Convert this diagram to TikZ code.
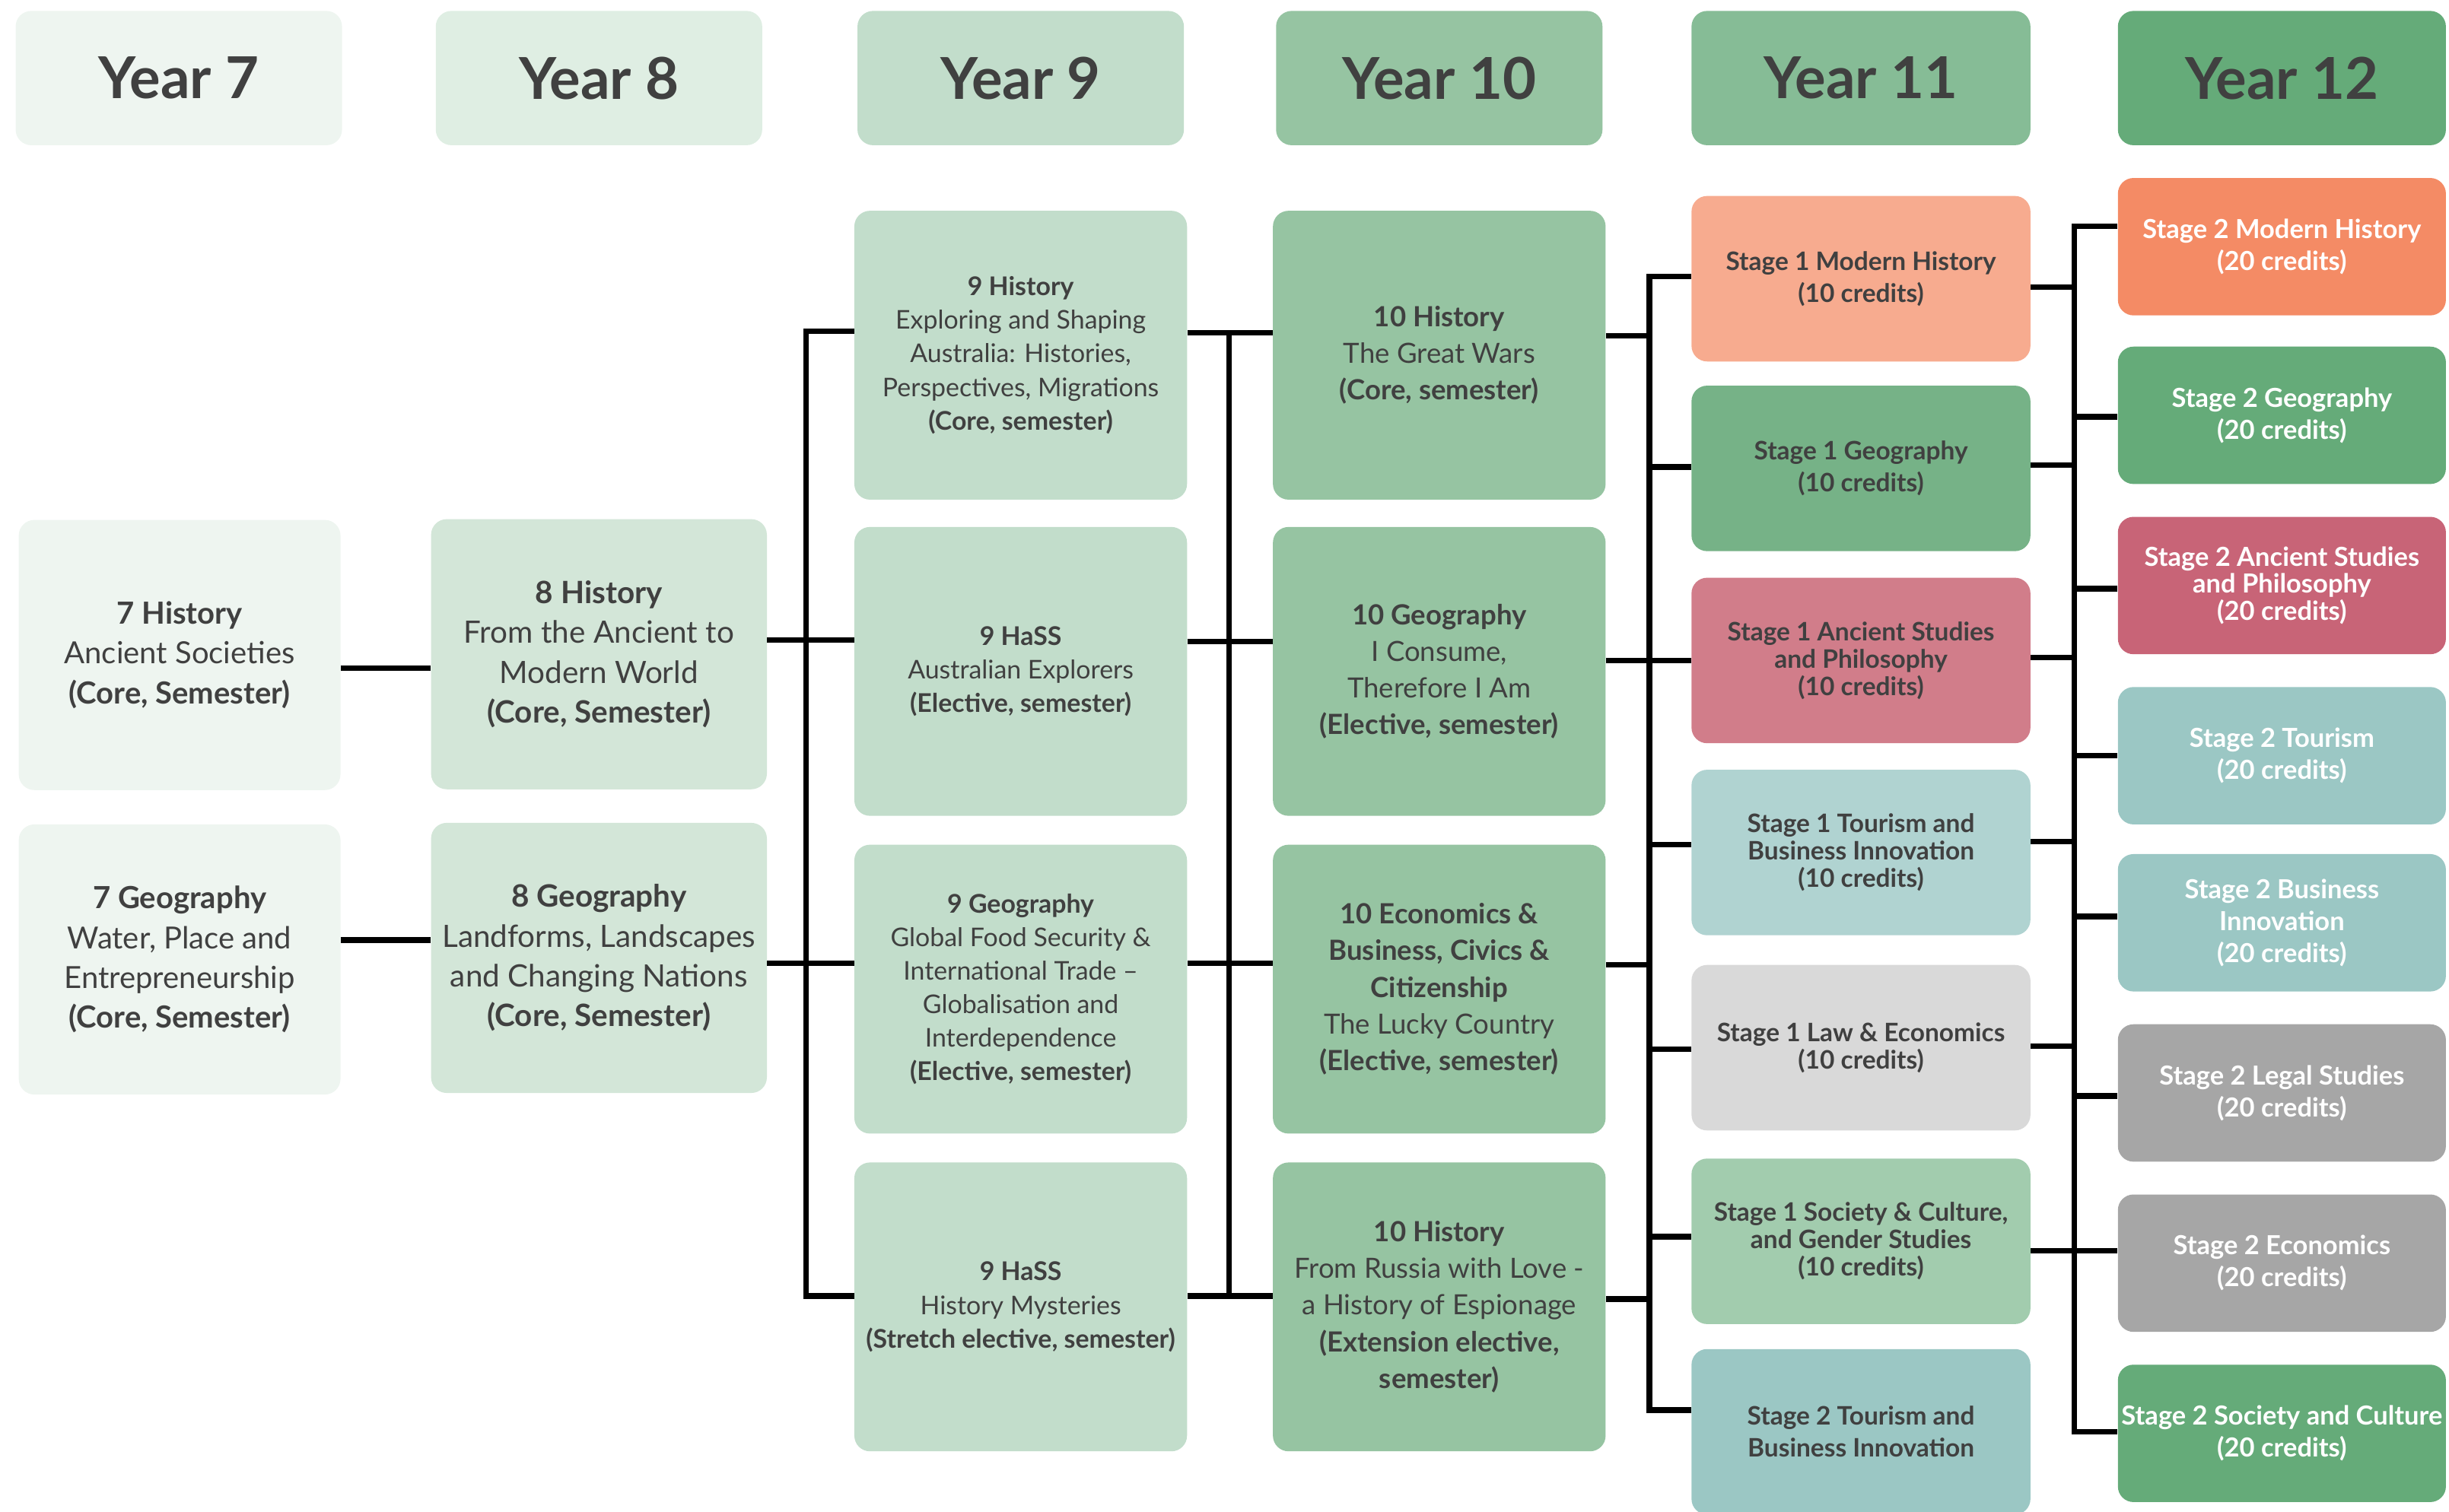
\documentclass[tikz,border=0pt]{standalone}
\usepackage{fontspec}
\setmainfont{Lato}
\usetikzlibrary{positioning}

\definecolor{ink}{HTML}{404040}
\definecolor{hdrA}{HTML}{EEF5F0}
\definecolor{hdrB}{HTML}{DFEEE3}
\definecolor{hdrC}{HTML}{C2DDCB}
\definecolor{hdrD}{HTML}{96C4A2}
\definecolor{hdrE}{HTML}{86BC96}
\definecolor{hdrF}{HTML}{65AB79}
\definecolor{boxB}{HTML}{D3E6D8}
\definecolor{sOneMod}{HTML}{F7AB8F}
\definecolor{sOneGeo}{HTML}{76B287}
\definecolor{sOneAnc}{HTML}{D17D8A}
\definecolor{sOneTour}{HTML}{B0D3D1}
\definecolor{sOneLaw}{HTML}{D9D9D9}
\definecolor{sOneSoc}{HTML}{A2CCAE}
\definecolor{sTwoTour}{HTML}{9BC7C4}
\definecolor{sTwoMod}{HTML}{F48B65}
\definecolor{sTwoAnc}{HTML}{C86477}
\definecolor{sTwoGrey}{HTML}{A6A6A6}

\tikzset{
		box/.style={rounded corners=10pt, inner sep=0pt, align=center, text=ink},
		yearhdr/.style={box, minimum height=86pt, font=\fontsize{37}{42}\selectfont\bfseries},
		colseven/.style={box, minimum width=206pt, minimum height=173pt, fill=hdrA, font=\fontsize{19.5}{25.5}\selectfont},
		coleight/.style={box, minimum width=215pt, minimum height=173pt, fill=boxB, font=\fontsize{19.7}{25.5}\selectfont},
		colnine/.style={box, minimum width=213pt, minimum height=185pt, fill=hdrC, font=\fontsize{16.5}{21.5}\selectfont},
		colten/.style={box, minimum width=213pt, minimum height=185pt, fill=hdrD, font=\fontsize{17.8}{23.5}\selectfont},
		stageone/.style={box, minimum width=217pt, minimum height=106pt, font=\fontsize{16.3}{17.5}\selectfont\bfseries},
		stagetwo/.style={box, minimum width=210pt, minimum height=88pt, text=white, font=\fontsize{16.8}{17.5}\selectfont\bfseries},
		link/.style={line width=3.6pt, black}
	}

\begin{document}
\begin{tikzpicture}[x=1pt, y=-1pt]
		\useasboundingbox (0,0) rectangle (1568,968);
		% year headers
		\node[yearhdr, minimum width=209pt, fill=hdrA] (hdr7) at (114.5,50) {Year 7};
		\node[yearhdr, minimum width=209pt, fill=hdrB] (hdr8) at (383.5,50) {Year 8};
		\node[yearhdr, minimum width=209pt, fill=hdrC] (hdr9) at (653.5,50) {Year 9};
		\node[yearhdr, minimum width=209pt, fill=hdrD] (hdr10) at (921.5,50) {Year 10};
		\node[yearhdr, minimum width=217pt, fill=hdrE] (hdr11) at (1191.5,50) {Year 11};
		\node[yearhdr, minimum width=210pt, fill=hdrF] (hdr12) at (1461,50) {Year 12};

		% year 7 and 8
		\node[colseven] (y7hist) at (115,419.5) {\textbf{7 History}\\Ancient Societies\\\textbf{(Core, Semester)}};
		\node[colseven] (y7geo) at (115,614.5) {\textbf{7 Geography}\\Water, Place and\\Entrepreneurship\\\textbf{(Core, Semester)}};
		\node[coleight] (y8hist) at (383.5,419) {\textbf{8 History}\\From the Ancient to\\Modern World\\\textbf{(Core, Semester)}};
		\node[coleight] (y8geo) at (383.5,613.5) {\textbf{8 Geography}\\Landforms, Landscapes\\and Changing Nations\\\textbf{(Core, Semester)}};

		% year 9
		\node[colnine] (y9hist) at (653.5,227.5) {\textbf{9 History}\\Exploring and Shaping\\Australia: Histories,\\Perspectives, Migrations\\\textbf{(Core, semester)}};
		\node[colnine] (y9hass) at (653.5,430) {\textbf{9 HaSS}\\Australian Explorers\\\textbf{(Elective, semester)}};
		\node[colnine] (y9geo) at (653.5,633.5) {\textbf{9 Geography}\\Global Food Security \&\\International Trade --\\Globalisation and\\Interdependence\\\textbf{(Elective, semester)}};
		\node[colnine] (y9myst) at (653.5,837) {\textbf{9 HaSS}\\History Mysteries\\\textbf{(Stretch elective, semester)}};

		% year 10
		\node[colten] (y10hist) at (921.5,227.5) {\textbf{10 History}\\The Great Wars\\\textbf{(Core, semester)}};
		\node[colten] (y10geo) at (921.5,430) {\textbf{10 Geography}\\I Consume,\\Therefore I Am\\\textbf{(Elective, semester)}};
		\node[colten] (y10econ) at (921.5,633.5) {\textbf{10 Economics \&}\\\textbf{Business, Civics \&}\\\textbf{Citizenship}\\The Lucky Country\\\textbf{(Elective, semester)}};
		\node[colten] (y10spy) at (921.5,837) {\textbf{10 History}\\From Russia with Love -\\a History of Espionage\\\textbf{(Extension elective,}\\\textbf{semester)}};

		% year 11
		\node[stageone, fill=sOneMod] (s1mod) at (1191.5,178.5) {Stage 1 Modern History\\[3pt](10 credits)};
		\node[stageone, fill=sOneGeo] (s1geo) at (1191.5,300) {Stage 1 Geography\\[3pt](10 credits)};
		\node[stageone, fill=sOneAnc] (s1anc) at (1191.5,423) {Stage 1 Ancient Studies\\and Philosophy\\(10 credits)};
		\node[stageone, fill=sOneTour] (s1tour) at (1191.5,546) {Stage 1 Tourism and\\Business Innovation\\(10 credits)};
		\node[stageone, fill=sOneLaw] (s1law) at (1191.5,671) {Stage 1 Law \& Economics\\(10 credits)};
		\node[stageone, fill=sOneSoc] (s1soc) at (1191.5,795) {Stage 1 Society \& Culture,\\and Gender Studies\\(10 credits)};
		\node[stageone, fill=sTwoTour] (s2touryr11) at (1191.5,917) {Stage 2 Tourism and\\[3pt]Business Innovation};

		% year 12
		\node[stagetwo, fill=sTwoMod] (s2mod) at (1461,158) {Stage 2 Modern History\\[3pt](20 credits)};
		\node[stagetwo, fill=hdrF] (s2geo) at (1461,266) {Stage 2 Geography\\[3pt](20 credits)};
		\node[stagetwo, fill=sTwoAnc] (s2anc) at (1461,375) {Stage 2 Ancient Studies\\and Philosophy\\(20 credits)};
		\node[stagetwo, fill=sTwoTour] (s2tour) at (1461,484) {Stage 2 Tourism\\[3pt](20 credits)};
		\node[stagetwo, fill=sTwoTour] (s2bus) at (1461,591) {Stage 2 Business\\[3pt]Innovation\\[3pt](20 credits)};
		\node[stagetwo, fill=sTwoGrey] (s2legal) at (1461,700) {Stage 2 Legal Studies\\[3pt](20 credits)};
		\node[stagetwo, fill=sTwoGrey] (s2econ) at (1461,809) {Stage 2 Economics\\[3pt](20 credits)};
		\node[stagetwo, fill=hdrF] (s2soc) at (1461,918) {Stage 2 Society and Culture\\[3pt](20 credits)};

		% bus lines
		\coordinate (bus8) at (516,0);
		\coordinate (bus9) at (787,0);
		\coordinate (bus10) at (1056,0);
		\coordinate (bus11) at (1328,0);

		% 7 -> 8
		\draw[link] (y7hist.east |- 0,428) -- (y8hist.west |- 0,428);
		\draw[link] (y7geo.east |- 0,602) -- (y8geo.west |- 0,602);
		% 8 -> 9
		\draw[link] (y8hist.east |- 0,410) -- (y9hass.west |- 0,410);
		\draw[link] (y8geo.east |- 0,617) -- (y9geo.west |- 0,617);
		\draw[link] (y9hist.west |- 0,212) -| (bus8 |- 0,830) -- (y9myst.west |- 0,830);
		% 9 -> 10
		\draw[link] (y9hist.east |- 0,213) -- (y10hist.west |- 0,213);
		\draw[link] (y9hass.east |- 0,411) -- (y10geo.west |- 0,411);
		\draw[link] (y9geo.east |- 0,617) -- (y10econ.west |- 0,617);
		\draw[link] (y9myst.east |- 0,830) -- (y10spy.west |- 0,830);
		\draw[link] (bus9 |- 0,213) -- (bus9 |- 0,830);
		% 10 -> 11
		\foreach \n/\y in {y10hist/215, y10geo/423, y10econ/618, y10spy/832}
			\draw[link] (\n.east |- 0,\y) -- (bus10 |- 0,\y);
		\draw[link] (s1mod.west |- 0,177) -| (bus10 |- 0,903) -- (s2touryr11.west |- 0,903);
		\foreach \n/\y in {s1geo/299, s1anc/423, s1tour/541, s1law/672, s1soc/792}
			\draw[link] (bus10 |- 0,\y) -- (\n.west |- 0,\y);
		% 11 -> 12
		\foreach \n/\y in {s1mod/184, s1geo/298, s1anc/421, s1tour/539, s1law/670, s1soc/801}
			\draw[link] (\n.east |- 0,\y) -- (bus11 |- 0,\y);
		\draw[link] (s2mod.west |- 0,145) -| (bus11 |- 0,917) -- (s2soc.west |- 0,917);
		\foreach \n/\y in {s2geo/267, s2anc/377, s2tour/484, s2bus/587, s2legal/702, s2econ/801}
			\draw[link] (bus11 |- 0,\y) -- (\n.west |- 0,\y);
	\end{tikzpicture}
\end{document}
